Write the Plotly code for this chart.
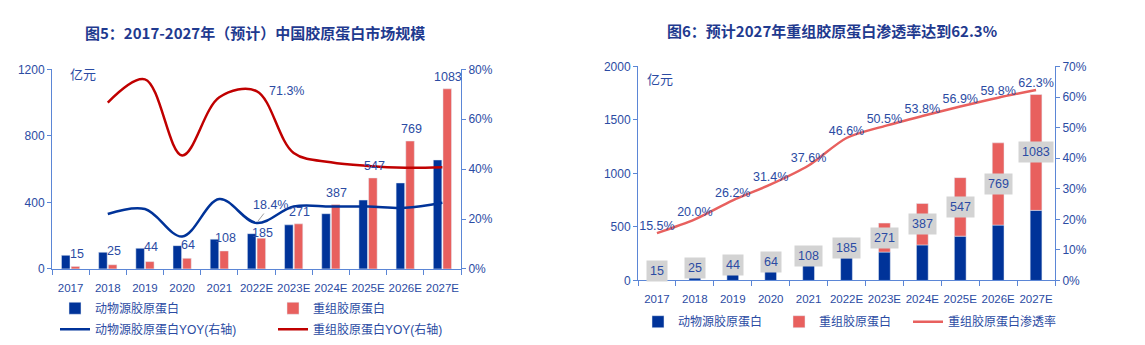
import plotly.graph_objects as go

years = ["2017", "2018", "2019", "2020", "2021", "2022E", "2023E", "2024E", "2025E", "2026E", "2027E"]
animal = [82, 100, 124, 140, 179, 212, 265, 332, 414, 517, 655]
recomb = [15, 25, 44, 64, 108, 185, 271, 387, 547, 769, 1083]
animal_yoy = [None, 0.22, 0.24, 0.13, 0.28, 0.184, 0.25, 0.25, 0.25, 0.245, 0.265]
recomb_yoy = [None, 0.667, 0.76, 0.455, 0.688, 0.713, 0.465, 0.428, 0.413, 0.406, 0.408]
penetration = [0.155, 0.200, 0.262, 0.314, 0.376, 0.466, 0.505, 0.538, 0.569, 0.598, 0.623]

NAVY = "#003399"
RED_BAR = "#E8605E"
RED_LINE = "#C00000"
TXT = "#2B4BA3"
AXIS = "#5B86D6"
FONT = "Arial, 'Liberation Sans', 'Noto Sans CJK SC', sans-serif"

fig = go.Figure()

# Left chart bars
fig.add_trace(go.Bar(x=years, y=animal, name="动物源胶原蛋白", marker_color=NAVY,
                     width=0.23, offset=-0.245, xaxis="x", yaxis="y", legend="legend"))
fig.add_trace(go.Bar(x=years, y=recomb, name="重组胶原蛋白", marker_color=RED_BAR,
                     width=0.23, offset=0.015, xaxis="x", yaxis="y", legend="legend"))
# Left chart lines
fig.add_trace(go.Scatter(x=years, y=animal_yoy, name="动物源胶原蛋白YOY(右轴)", mode="lines",
                         line=dict(color=NAVY, width=2.5, shape="spline"),
                         xaxis="x", yaxis="y2", legend="legend2"))
fig.add_trace(go.Scatter(x=years, y=recomb_yoy, name="重组胶原蛋白YOY(右轴)", mode="lines",
                         line=dict(color=RED_LINE, width=2.5, shape="spline"),
                         xaxis="x", yaxis="y2", legend="legend2"))

# Right chart stacked bars
fig.add_trace(go.Bar(x=years, y=animal, name="动物源胶原蛋白", marker_color=NAVY,
                     width=0.31, offset=-0.155, xaxis="x2", yaxis="y3", legend="legend3"))
fig.add_trace(go.Bar(x=years, y=recomb, base=animal, name="重组胶原蛋白", marker_color=RED_BAR,
                     width=0.31, offset=-0.155, xaxis="x2", yaxis="y3", legend="legend4"))
fig.add_trace(go.Scatter(x=years, y=penetration, name="重组胶原蛋白渗透率", mode="lines+text",
                         text=[f"{v*100:.1f}%" for v in penetration], textposition="top center",
                         textfont=dict(size=12.5, color=TXT, family=FONT),
                         line=dict(color=RED_BAR, width=2.5, shape="spline", smoothing=0.8),
                         xaxis="x2", yaxis="y4", legend="legend5"))

annotations = []
# Left red bar labels (x given as category index)
for i, (a, r) in enumerate(zip(animal, recomb)):
    if r >= a:
        yv, ys = r, 12
    else:
        yv, ys = a, 1
    annotations.append(dict(x=i, y=yv, xref="x", yref="y", text=str(r), showarrow=False,
                            xshift=6, yshift=ys, yanchor="middle", xanchor="center",
                            font=dict(size=12.5, color=TXT, family=FONT)))
# Right box labels
for i, (a, r) in enumerate(zip(animal, recomb)):
    annotations.append(dict(x=i, y=a + r / 2, xref="x2", yref="y3", text=str(r), showarrow=False,
                            bgcolor="#D3D3D3", borderpad=3, xanchor="center", yanchor="middle",
                            font=dict(size=12.5, color=TXT, family=FONT)))
# YOY point labels
annotations.append(dict(x=5, y=recomb_yoy[5], xref="x", yref="y2", text="71.3%",
                        showarrow=False, xanchor="left", xshift=10,
                        font=dict(size=12.5, color=TXT, family=FONT)))
annotations.append(dict(x=5, y=animal_yoy[5], xref="x", yref="y2", text="18.4%",
                        showarrow=True, arrowhead=0, arrowwidth=1, arrowcolor="#A0A0A0",
                        ax=14, ay=-18, standoff=2,
                        font=dict(size=12.5, color=TXT, family=FONT)))
# Titles
annotations.append(dict(x=255 / 1145, y=1 - 27 / 345, xref="paper", yref="paper", xanchor="center",
                        yanchor="middle",
                        text="<b>图5：2017-2027年（预计）中国胶原蛋白市场规模</b>", showarrow=False,
                        font=dict(size=15, color="#1F3A8F", family="'Noto Sans CJK SC', sans-serif")))
annotations.append(dict(x=832 / 1145, y=1 - 25 / 345, xref="paper", yref="paper", xanchor="center",
                        yanchor="middle",
                        text="<b>图6：预计2027年重组胶原蛋白渗透率达到62.3%</b>", showarrow=False,
                        font=dict(size=15, color="#1F3A8F", family="'Noto Sans CJK SC', sans-serif")))
# Units
annotations.append(dict(x=83 / 1145, y=1 - 70 / 345, xref="paper", yref="paper", text="亿元",
                        xanchor="center", yanchor="middle",
                        showarrow=False, font=dict(size=13, color=TXT, family=FONT)))
annotations.append(dict(x=660 / 1145, y=1 - 76 / 345, xref="paper", yref="paper", text="亿元",
                        xanchor="center", yanchor="middle",
                        showarrow=False, font=dict(size=13, color=TXT, family=FONT)))

axis_common = dict(showline=True, linecolor=AXIS, linewidth=1, showgrid=False, zeroline=False,
                   ticks="outside", tickcolor=AXIS,
                   tickfont=dict(size=12, color=TXT, family=FONT))
xaxis_common = dict(showline=True, linecolor=AXIS, linewidth=1, showgrid=False, zeroline=False,
                    ticks="outside", tickcolor=AXIS, ticklen=5, tickangle=0,
                    tickson="boundaries", ticklabelstandoff=8,
                    tickfont=dict(size=11.5, color=TXT, family=FONT))

legend_common = dict(orientation="h", xanchor="left", yanchor="middle", bgcolor="rgba(0,0,0,0)",
                     font=dict(size=12, color=TXT, family=FONT), traceorder="normal",
                     itemclick=False, itemdoubleclick=False)

fig.update_layout(
    width=1145, height=345,
    margin=dict(l=0, r=0, t=0, b=0),
    paper_bgcolor="white", plot_bgcolor="white",
    barmode="overlay",
    font=dict(family=FONT, color=TXT),
    xaxis=dict(domain=[52 / 1145, 461 / 1145], anchor="y", type="category", range=[-0.5, 10.5],
               **xaxis_common),
    yaxis=dict(domain=[1 - 273 / 345, 1 - 65 / 345], anchor="x", range=[0, 1200], tickvals=[0, 400, 800, 1200],
               ticklen=4, **axis_common),
    yaxis2=dict(overlaying="y", anchor="x", side="right", range=[0, 0.8], tickvals=[0, 0.2, 0.4, 0.6, 0.8],
                tickformat=".0%", ticklen=4, **axis_common),
    xaxis2=dict(domain=[638 / 1145, 1055 / 1145], anchor="y3", type="category", range=[-0.5, 10.5],
                **xaxis_common),
    yaxis3=dict(domain=[1 - 285 / 345, 1 - 62 / 345], anchor="x2", range=[0, 2000],
                tickvals=[0, 500, 1000, 1500, 2000], ticklen=4, **axis_common),
    yaxis4=dict(overlaying="y3", anchor="x2", side="right", range=[0, 0.7],
                tickvals=[0, 0.1, 0.2, 0.3, 0.4, 0.5, 0.6, 0.7], tickformat=".0%", ticklen=4, **axis_common),
    legend=dict(x=(95 - 40) / 1145, y=1 - 314 / 345, entrywidth=173, entrywidthmode="pixels", **legend_common),
    legend2=dict(x=(95 - 40) / 1145, y=1 - 336 / 345, entrywidth=173, entrywidthmode="pixels", **legend_common),
    legend3=dict(x=(678 - 40) / 1145, y=1 - 328 / 345, **legend_common),
    legend4=dict(x=(819 - 40) / 1145, y=1 - 328 / 345, **legend_common),
    legend5=dict(x=(948 - 40) / 1145, y=1 - 328 / 345, **legend_common),
    annotations=annotations,
    showlegend=True,
)

fig.write_html("out.html")
